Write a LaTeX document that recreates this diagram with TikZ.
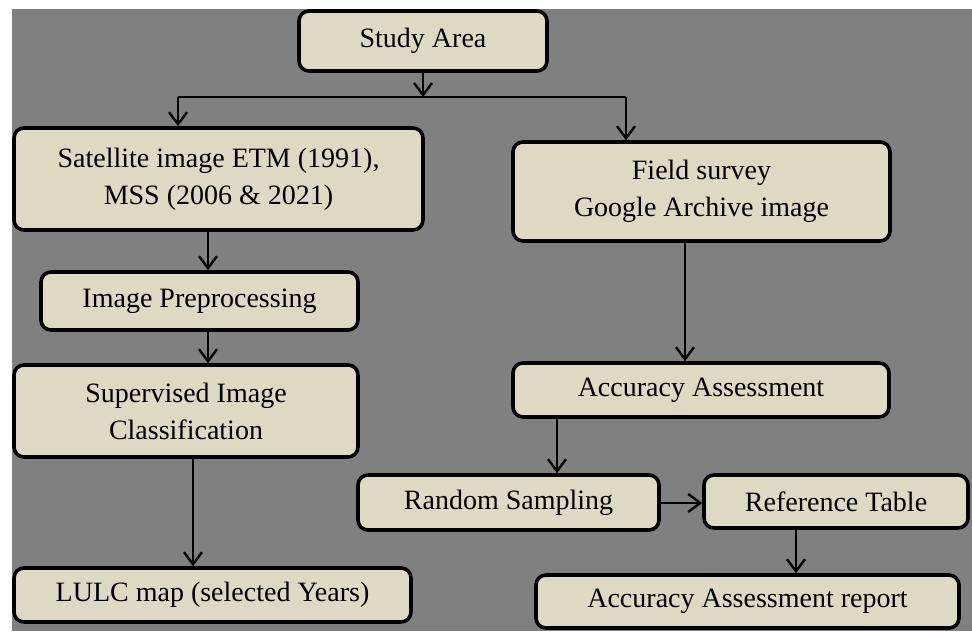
\documentclass[tikz,border=0pt]{standalone}
\usepackage{fontspec}
\setmainfont{Liberation Serif}
\usetikzlibrary{arrows.meta}
\definecolor{bggray}{RGB}{128,128,128}
\definecolor{boxtan}{RGB}{221,217,195}

\begin{document}
\begin{tikzpicture}[
  x=0.5pt, y=-0.5pt,
  >={Straight Barb[length=6pt,width=9pt]},
  every node/.style={font=\fontsize{14}{18.5}\selectfont},
  flowbox/.style={draw, line width=1.8pt, rounded corners=5pt, fill=boxtan,
                  align=center, inner sep=0pt},
  link/.style={->, line width=1.2pt}
]

% --- Canvas (pixel units, y pointing down) ---
\useasboundingbox (0,0) rectangle (972,631);
\fill[white] (0,0) rectangle (972,631);
\fill[bggray] (12,9) rectangle (972,631);

% --- Left branch ---
\node[flowbox, minimum width=124pt,   minimum height=30pt]   (study) at (423,41)    {Study Area};
\node[flowbox, minimum width=204.5pt, minimum height=51pt]   (sat)   at (218.5,179) {Satellite image ETM (1991),\\MSS (2006 \& 2021)};
\node[flowbox, minimum width=158.5pt, minimum height=29pt]   (pre)   at (199.5,301) {Image Preprocessing};
\node[flowbox, minimum width=172pt,   minimum height=46pt]   (sup)   at (186,411)   {Supervised Image\\Classification};
\node[flowbox, minimum width=198.5pt, minimum height=27pt]   (lulc)  at (212.5,595) {LULC map (selected Years)};

% --- Right branch ---
\node[flowbox, minimum width=188.5pt, minimum height=49.5pt] (field) at (701.5,191.5) {Field survey\\Google Archive image};
\node[flowbox, minimum width=188pt,   minimum height=27pt]   (acc)   at (701,390)   {Accuracy Assessment};
\node[flowbox, minimum width=150.5pt, minimum height=27.5pt] (rand)  at (508.5,502.5) {Random Sampling};
\node[flowbox, minimum width=132pt,   minimum height=26.5pt] (ref)   at (836,501.5) {Reference Table};
\node[flowbox, minimum width=211.5pt, minimum height=26.5pt] (rep)   at (747.5,601.5) {Accuracy Assessment report};

% --- Split below the study area ---
\coordinate (split)  at (423,97);
\coordinate (splitL) at (178,97);
\coordinate (splitR) at (626,97);
\draw[link] (study.south) -- (split);
\draw[line width=1.2pt] (splitL) -- (splitR);
\draw[link] (splitL) -- (splitL |- sat.north);
\draw[link] (splitR) -- (splitR |- field.north);

% --- Connectors ---
\draw[link] (sat.south -| 208,0)   -- (pre.north -| 208,0);
\draw[link] (pre.south -| 208,0)   -- (sup.north -| 208,0);
\draw[link] (sup.south -| 193,0)   -- (lulc.north -| 193,0);
\draw[link] (field.south -| 685,0) -- (acc.north -| 685,0);
\draw[link] (acc.south -| 557,0)   -- (rand.north -| 557,0);
\draw[link] (rand.east |- 0,503)   -- (ref.west |- 0,503);
\draw[link] (ref.south -| 796,0)   -- (rep.north -| 796,0);

\end{tikzpicture}
\end{document}
